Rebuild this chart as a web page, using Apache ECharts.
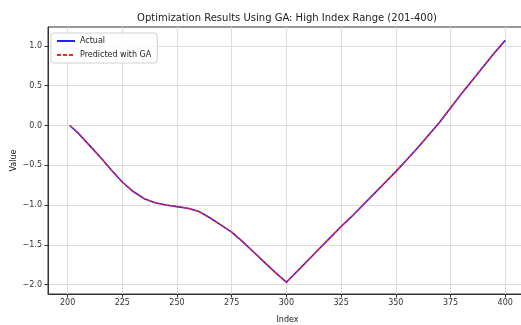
<!DOCTYPE html>
<html>
<head>
<meta charset="utf-8">
<script src="https://cdn.jsdelivr.net/npm/echarts@6/dist/echarts.min.js"></script>
<style>
html,body{margin:0;padding:0;background:#fff;}
#chart{width:521px;height:325px;}
</style>
</head>
<body>
<div id="chart"></div>
<script>
// ---- data ----
const indexValues = [201,205,210,215,220,225,230,235,240,245,250,255,260,265,270,275,280,285,290,295,300,305,310,315,320,325,330,335,340,345,350,355,360,365,370,375,380,385,390,395,400];
const actualValues = [0.00,-0.10,-0.25,-0.40,-0.56,-0.71,-0.83,-0.92,-0.97,-1.00,-1.02,-1.04,-1.08,-1.16,-1.25,-1.34,-1.46,-1.59,-1.72,-1.85,-1.97,-1.83,-1.69,-1.55,-1.41,-1.27,-1.14,-1.00,-0.86,-0.72,-0.58,-0.43,-0.28,-0.12,0.04,0.22,0.40,0.57,0.74,0.91,1.07];
const predictedValues = [0.00,-0.10,-0.25,-0.40,-0.56,-0.71,-0.83,-0.92,-0.97,-1.00,-1.02,-1.04,-1.08,-1.16,-1.25,-1.34,-1.46,-1.59,-1.72,-1.85,-1.97,-1.83,-1.69,-1.55,-1.41,-1.27,-1.14,-1.00,-0.86,-0.72,-0.58,-0.43,-0.28,-0.12,0.04,0.22,0.40,0.57,0.74,0.91,1.07];
const xTicks = [200,225,250,275,300,325,350,375,400];
const yTicks = [-2.0,-1.5,-1.0,-0.5,0.0,0.5,1.0];
const titleText = 'Optimization Results Using GA: High Index Range (201-400)';
const seriesNames = ['Actual', 'Predicted with GA'];

const FONT = 'DejaVu Sans';
const chart = echarts.init(document.getElementById('chart'), null, {renderer: 'canvas'});
const fmtMinus = v => v.toFixed(1).replace('-', '\u2212');

const option = {
  animation: false,
  backgroundColor: '#ffffff',
  graphic: [{
    type: 'text', x: 287, y: 18,
    style: {text: titleText, font: '10px "DejaVu Sans"', fill: '#222', align: 'center', verticalAlign: 'middle'}
  }],
  grid: {left: 48, top: 27, width: 479, height: 267, show: true, borderColor: '#333', borderWidth: 1,
         containLabel: false, outerBoundsMode: 'none'},
  legend: {
    orient: 'vertical', left: 51, top: 33,
    itemWidth: 18, itemHeight: 8, itemGap: 6,
    padding: [4, 6, 4, 5],
    backgroundColor: 'rgba(255,255,255,0.85)', borderColor: '#d0d0d0', borderWidth: 1, borderRadius: 3,
    textStyle: {fontFamily: FONT, fontSize: 8, color: '#222'},
    itemStyle: {opacity: 0},
    data: seriesNames
  },
  xAxis: {
    type: 'value', min: 191.05, max: 409.95,
    name: 'Index', nameLocation: 'middle', nameGap: 22, nameMoveOverlap: false,
    nameTextStyle: {fontFamily: FONT, fontSize: 8, color: '#222'},
    axisLine: {show: true, onZero: false, lineStyle: {color: '#333', width: 1}},
    axisTick: {show: true, length: 3.5, customValues: xTicks, lineStyle: {color: '#333'}},
    axisLabel: {customValues: xTicks, margin: 5, fontFamily: FONT, fontSize: 8, color: '#333', formatter: v => String(v)},
    splitLine: {show: true, lineStyle: {color: '#dcdcdc', width: 1}}
  },
  yAxis: {
    type: 'value', min: -2.118, max: 1.238,
    name: 'Value', nameLocation: 'middle', nameGap: 30, nameRotate: 90, nameMoveOverlap: false,
    nameTextStyle: {fontFamily: FONT, fontSize: 8, color: '#222'},
    axisLine: {show: true, onZero: false, lineStyle: {color: '#333', width: 1}},
    axisTick: {show: true, length: 3.5, customValues: yTicks, lineStyle: {color: '#333'}},
    axisLabel: {customValues: yTicks, margin: 6, fontFamily: FONT, fontSize: 8, color: '#333', formatter: v => fmtMinus(v)},
    splitLine: {show: true, lineStyle: {color: '#dcdcdc', width: 1}}
  },
  series: [
    {
      name: seriesNames[0], type: 'line', smooth: false, symbol: 'none',
      data: indexValues.map((x, i) => [x, actualValues[i]]),
      lineStyle: {color: '#2020ff', width: 1.6, join: 'round'},
      itemStyle: {color: '#2020ff'}
    },
    {
      name: seriesNames[1], type: 'line', smooth: false, symbol: 'none',
      data: indexValues.map((x, i) => [x, predictedValues[i]]),
      lineStyle: {color: '#ff2020', width: 1.3, type: [4, 2]},
      itemStyle: {color: '#ff2020'}
    }
  ]
};
chart.setOption(option);
</script>
</body>
</html>
